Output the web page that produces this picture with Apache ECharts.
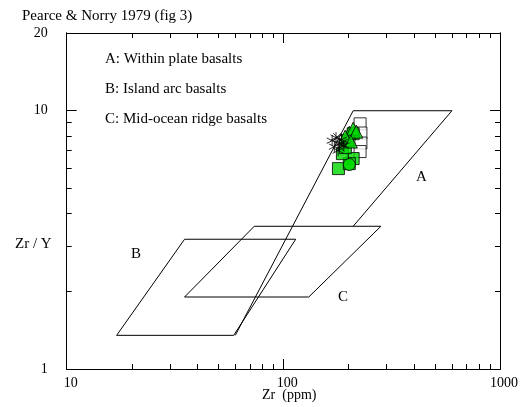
<!DOCTYPE html>
<html>
<head>
<meta charset="utf-8">
<script src="https://cdn.jsdelivr.net/npm/echarts@6/dist/echarts.min.js"></script>
<style>html,body{margin:0;padding:0;background:#fff}#c{width:521px;height:407px}</style>
</head>
<body>
<div id="c"></div>
<script>
// Field boundaries (Zr ppm, Zr/Y)
const fieldA = [[60, 1.35], [210, 10], [600, 10], [210, 3.57]];
const fieldB = [[17, 1.35], [59, 1.35], [114, 3.18], [35, 3.18], [17, 1.35]];
const fieldC = [[35, 1.9], [131, 1.9], [282, 3.57], [73.4, 3.57], [35, 1.9]];

// Samples
const greenSquares = [[179.6, 5.97], [210, 6.53], [201.6, 6.24], [187.3, 6.82], [193.3, 7.2], [197.4, 7.66], [210, 8.15]];
const greenTriangles = [[201.6, 8.22], [210, 8.52], [217, 8.3], [193, 7.94], [205, 7.6]];
const whiteSquares = [[226, 8.9], [228, 8.2], [228, 7.5], [226, 6.95]];
const greenCircles = [[201.6, 6.19]];
const asterisks = [[168, 7.66], [175, 7.87], [181, 7.46], [186, 7.73], [172, 7.26], [190, 7.33], [179, 7.01]];
const crosses = [[177, 7.9], [189, 7.5], [183, 7.2]];

// Tick values
const xMajor = [10, 100, 1000];
const xMinor = [20, 30, 40, 50, 60, 70, 80, 90, 200, 300, 400, 500, 600, 700, 800, 900];
const yMajor = [1, 10, 20];
const yMinor = [2, 3, 4, 5, 6, 7, 8, 9];
const xLabels = [10, 100, 1000];
const yLabels = [1, 10, 20];

const FONT = "'Liberation Serif', 'Times New Roman', serif";

function xAx(pos, ticks, len, labels) {
  return {
    type: 'log', logBase: 10, min: 10, max: 1000, position: pos,
    axisLine: { show: true, onZero: false, lineStyle: { color: '#000', width: 1 } },
    axisTick: { show: true, inside: true, length: len, customValues: ticks, lineStyle: { color: '#000', width: 1 } },
    axisLabel: labels ? { show: true, customValues: labels, formatter: v => String(Math.round(v)), color: '#000', fontFamily: FONT, fontSize: 14, margin: 7, padding: [0, 0, 0, 8] } : { show: false },
    splitLine: { show: false }, minorTick: { show: false }
  };
}
function yAx(pos, ticks, len, labels) {
  return {
    type: 'log', logBase: 10, min: 1, max: 20, position: pos,
    axisLine: { show: true, onZero: false, lineStyle: { color: '#000', width: 1 } },
    axisTick: { show: true, inside: true, length: len, customValues: ticks, lineStyle: { color: '#000', width: 1 } },
    axisLabel: labels ? { show: true, customValues: labels, formatter: v => String(Math.round(v)), color: '#000', fontFamily: FONT, fontSize: 14, margin: 19 } : { show: false },
    splitLine: { show: false }, minorTick: { show: false }
  };
}

const lineStyle = { color: '#000', width: 1 };
function fieldSeries(d) {
  return { type: 'line', data: d, showSymbol: false, symbol: 'none', lineStyle: lineStyle, silent: true, animation: false, z: 1 };
}
const asteriskPath = 'path://M5,0L5,10M0.67,2.5L9.33,7.5M0.67,7.5L9.33,2.5';
const crossPath = 'path://M0,0L10,10M0,10L10,0';
const GREEN = '#00d800';

const option = {
  animation: false,
  backgroundColor: '#fff',
  grid: { left: 66.7, right: 16.7, top: 33, bottom: 38, containLabel: false },
  xAxis: [xAx('bottom', xMajor, 10, xLabels), xAx('bottom', xMinor, 5, null), xAx('top', xMajor, 10, null), xAx('top', xMinor, 5, null)],
  yAxis: [yAx('left', yMajor, 10, yLabels), yAx('left', yMinor, 5, null), yAx('right', yMajor, 10, null), yAx('right', yMinor, 5, null)],
  series: [
    fieldSeries(fieldA), fieldSeries(fieldB), fieldSeries(fieldC),
    { type: 'scatter', data: whiteSquares, symbol: 'rect', symbolSize: 12, itemStyle: { color: '#fff', borderColor: '#000', borderWidth: 1 }, z: 2 },
    { type: 'scatter', data: greenSquares, symbol: 'rect', symbolSize: 12, itemStyle: { color: GREEN, borderColor: '#000', borderWidth: 1 }, z: 3 },
    { type: 'scatter', data: greenCircles, symbol: 'circle', symbolSize: 12, itemStyle: { color: GREEN, borderColor: '#000', borderWidth: 1 }, z: 3 },
    { type: 'scatter', data: greenTriangles, symbol: 'triangle', symbolSize: 13, itemStyle: { color: GREEN, borderColor: '#000', borderWidth: 1 }, z: 4 },
    { type: 'scatter', data: asterisks, symbol: asteriskPath, symbolSize: 11, itemStyle: { color: 'none', borderColor: '#000', borderWidth: 1 }, z: 5 },
    { type: 'scatter', data: crosses, symbol: crossPath, symbolSize: 8, itemStyle: { color: 'none', borderColor: '#000', borderWidth: 1 }, z: 5 }
  ],
  graphic: [
    { type: 'text', left: 22, top: 9, style: { text: 'Pearce & Norry 1979 (fig 3)', font: '15px ' + FONT, fill: '#000' } },
    { type: 'text', left: 105, top: 52, style: { text: 'A: Within plate basalts', font: '15px ' + FONT, fill: '#000' } },
    { type: 'text', left: 105, top: 82, style: { text: 'B: Island arc basalts', font: '15px ' + FONT, fill: '#000' } },
    { type: 'text', left: 105, top: 112, style: { text: 'C: Mid-ocean ridge basalts', font: '15px ' + FONT, fill: '#000' } },
    { type: 'text', left: 416, top: 170, style: { text: 'A', font: '15px ' + FONT, fill: '#000' } },
    { type: 'text', left: 131, top: 247, style: { text: 'B', font: '15px ' + FONT, fill: '#000' } },
    { type: 'text', left: 338, top: 290, style: { text: 'C', font: '15px ' + FONT, fill: '#000' } },
    { type: 'text', left: 15, top: 237, style: { text: 'Zr / Y', font: '15px ' + FONT, fill: '#000' } },
    { type: 'text', left: 262, top: 388, style: { text: 'Zr  (ppm)', font: '14px ' + FONT, fill: '#000' } }
  ]
};
const chart = echarts.init(document.getElementById('c'), null, { renderer: 'canvas' });
chart.setOption(option);
</script>
</body>
</html>
